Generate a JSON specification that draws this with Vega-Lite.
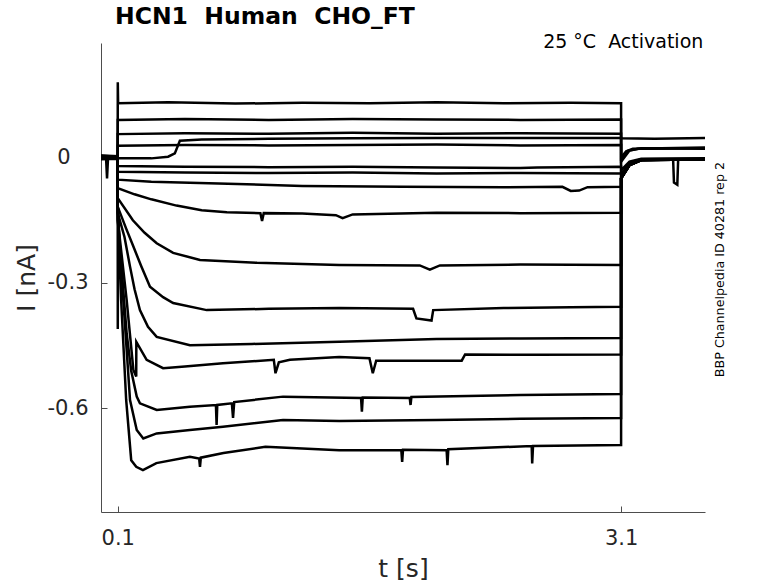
{
  "$schema": "https://vega.github.io/schema/vega-lite/v6.json",
  "width": 604,
  "height": 469,
  "autosize": {"type": "none"},
  "padding": {"left": 101, "top": 43, "right": 73, "bottom": 71},
  "background": "white",
  "config": {
    "view": {"stroke": null},
    "font": "DejaVu Sans",
    "axis": {
      "grid": false,
      "domainColor": "#4d4d4d",
      "domainWidth": 1,
      "tickColor": "#4d4d4d",
      "tickWidth": 1,
      "tickSize": -6,
      "labelFont": "DejaVu Sans",
      "labelFontSize": 21,
      "labelColor": "#262626",
      "titleFont": "DejaVu Sans",
      "titleFontSize": 25,
      "titleFontWeight": "normal",
      "titleColor": "#262626"
    }
  },
  "title": {
    "text": "HCN1\u00a0 Human\u00a0 CHO_FT",
    "anchor": "start",
    "frame": "group",
    "dx": 14,
    "offset": 5,
    "font": "DejaVu Sans",
    "fontSize": 23.5,
    "fontWeight": "bold",
    "color": "#000000"
  },
  "layer": [
    {
      "data": {
        "values": [
          {"s":1,"t":0,"i":0.004},{"s":1,"t":0.05,"i":0.003},{"s":1,"t":0.0995,"i":0.002},{"s":1,"t":0.1,"i":0.18},{"s":1,"t":0.102,"i":0.13},{"s":1,"t":0.4,"i":0.132},{"s":1,"t":0.8,"i":0.129},{"s":1,"t":1.2,"i":0.131},{"s":1,"t":1.6,"i":0.13},{"s":1,"t":2.0,"i":0.132},{"s":1,"t":2.4,"i":0.13},{"s":1,"t":2.8,"i":0.131},{"s":1,"t":3.0999,"i":0.13},{"s":1,"t":3.1,"i":0.046},{"s":1,"t":3.3,"i":0.045},{"s":1,"t":3.6,"i":0.047},

          {"s":2,"t":0,"i":0.0},{"s":2,"t":0.05,"i":0.002},{"s":2,"t":0.0995,"i":0.0},{"s":2,"t":0.1,"i":0.09},{"s":2,"t":0.5,"i":0.092},{"s":2,"t":1.0,"i":0.09},{"s":2,"t":1.5,"i":0.092},{"s":2,"t":2.0,"i":0.091},{"s":2,"t":2.5,"i":0.09},{"s":2,"t":3.0999,"i":0.091},{"s":2,"t":3.1,"i":0.0},{"s":2,"t":3.13,"i":0.015},{"s":2,"t":3.17,"i":0.021},{"s":2,"t":3.6,"i":0.024},

          {"s":3,"t":0,"i":-0.003},{"s":3,"t":0.0995,"i":-0.002},{"s":3,"t":0.1,"i":0.056},{"s":3,"t":0.5,"i":0.058},{"s":3,"t":1.0,"i":0.057},{"s":3,"t":1.5,"i":0.059},{"s":3,"t":2.0,"i":0.057},{"s":3,"t":2.5,"i":0.058},{"s":3,"t":3.0999,"i":0.057},{"s":3,"t":3.1,"i":-0.005},{"s":3,"t":3.14,"i":0.016},{"s":3,"t":3.2,"i":0.021},{"s":3,"t":3.6,"i":0.022},

          {"s":4,"t":0,"i":0.002},{"s":4,"t":0.0995,"i":0.0},{"s":4,"t":0.1,"i":-0.002},{"s":4,"t":0.3,"i":-0.002},{"s":4,"t":0.4,"i":0.002},{"s":4,"t":0.44,"i":0.01},{"s":4,"t":0.47,"i":0.04},{"s":4,"t":0.6,"i":0.043},{"s":4,"t":1.0,"i":0.045},{"s":4,"t":1.5,"i":0.046},{"s":4,"t":2.0,"i":0.047},{"s":4,"t":2.5,"i":0.047},{"s":4,"t":3.0999,"i":0.047},{"s":4,"t":3.1,"i":-0.01},{"s":4,"t":3.15,"i":0.017},{"s":4,"t":3.22,"i":0.022},{"s":4,"t":3.6,"i":0.021},

          {"s":5,"t":0,"i":0.001},{"s":5,"t":0.03,"i":0.0},{"s":5,"t":0.036,"i":-0.05},{"s":5,"t":0.042,"i":0.0},{"s":5,"t":0.0995,"i":-0.001},{"s":5,"t":0.1,"i":0.028},{"s":5,"t":0.5,"i":0.03},{"s":5,"t":1.0,"i":0.029},{"s":5,"t":1.5,"i":0.03},{"s":5,"t":2.0,"i":0.031},{"s":5,"t":2.5,"i":0.029},{"s":5,"t":3.0999,"i":0.03},{"s":5,"t":3.1,"i":-0.03},{"s":5,"t":3.15,"i":-0.01},{"s":5,"t":3.22,"i":-0.003},{"s":5,"t":3.6,"i":-0.002},

          {"s":6,"t":0,"i":-0.004},{"s":6,"t":0.0995,"i":-0.003},{"s":6,"t":0.1,"i":-0.02},{"s":6,"t":0.5,"i":-0.022},{"s":6,"t":1.0,"i":-0.023},{"s":6,"t":1.5,"i":-0.022},{"s":6,"t":2.0,"i":-0.024},{"s":6,"t":2.5,"i":-0.025},{"s":6,"t":2.6,"i":-0.024},{"s":6,"t":3.0999,"i":-0.022},{"s":6,"t":3.1,"i":-0.04},{"s":6,"t":3.15,"i":-0.012},{"s":6,"t":3.22,"i":-0.004},{"s":6,"t":3.6,"i":-0.003},

          {"s":7,"t":0,"i":0.003},{"s":7,"t":0.0995,"i":0.002},{"s":7,"t":0.1,"i":-0.034},{"s":7,"t":0.5,"i":-0.036},{"s":7,"t":1.0,"i":-0.037},{"s":7,"t":1.5,"i":-0.036},{"s":7,"t":2.0,"i":-0.038},{"s":7,"t":2.5,"i":-0.037},{"s":7,"t":3.0999,"i":-0.038},{"s":7,"t":3.1,"i":-0.045},{"s":7,"t":3.15,"i":-0.015},{"s":7,"t":3.22,"i":-0.005},{"s":7,"t":3.6,"i":-0.004},

          {"s":8,"t":0,"i":-0.002},{"s":8,"t":0.0995,"i":-0.001},{"s":8,"t":0.1,"i":-0.053},{"s":8,"t":0.3,"i":-0.058},{"s":8,"t":0.7,"i":-0.062},{"s":8,"t":1.2,"i":-0.068},{"s":8,"t":1.8,"i":-0.07},{"s":8,"t":2.4,"i":-0.071},{"s":8,"t":2.75,"i":-0.07},{"s":8,"t":2.8,"i":-0.08},{"s":8,"t":2.85,"i":-0.079},{"s":8,"t":2.9,"i":-0.071},{"s":8,"t":3.0999,"i":-0.07},{"s":8,"t":3.1,"i":-0.05},{"s":8,"t":3.15,"i":-0.015},{"s":8,"t":3.22,"i":-0.006},{"s":8,"t":3.6,"i":-0.004},

          {"s":9,"t":0,"i":0.0},{"s":9,"t":0.0995,"i":0.001},{"s":9,"t":0.1,"i":-0.073},{"s":9,"t":0.2,"i":-0.088},{"s":9,"t":0.3,"i":-0.1},{"s":9,"t":0.45,"i":-0.115},{"s":9,"t":0.6,"i":-0.126},{"s":9,"t":0.75,"i":-0.131},{"s":9,"t":0.95,"i":-0.133},{"s":9,"t":0.96,"i":-0.152},{"s":9,"t":0.97,"i":-0.133},{"s":9,"t":1.2,"i":-0.134},{"s":9,"t":1.4,"i":-0.138},{"s":9,"t":1.44,"i":-0.145},{"s":9,"t":1.5,"i":-0.136},{"s":9,"t":2.0,"i":-0.132},{"s":9,"t":2.5,"i":-0.133},{"s":9,"t":3.0999,"i":-0.132},{"s":9,"t":3.1,"i":-0.05},{"s":9,"t":3.15,"i":-0.016},{"s":9,"t":3.22,"i":-0.006},{"s":9,"t":3.6,"i":-0.005},

          {"s":10,"t":0,"i":0.002},{"s":10,"t":0.0995,"i":0.0},{"s":10,"t":0.1,"i":-0.097},{"s":10,"t":0.19,"i":-0.15},{"s":10,"t":0.26,"i":-0.18},{"s":10,"t":0.332,"i":-0.205},{"s":10,"t":0.43,"i":-0.228},{"s":10,"t":0.59,"i":-0.245},{"s":10,"t":0.93,"i":-0.252},{"s":10,"t":1.42,"i":-0.257},{"s":10,"t":1.9,"i":-0.258},{"s":10,"t":1.96,"i":-0.268},{"s":10,"t":2.02,"i":-0.258},{"s":10,"t":2.5,"i":-0.256},{"s":10,"t":3.0999,"i":-0.257},{"s":10,"t":3.1,"i":-0.05},{"s":10,"t":3.15,"i":-0.018},{"s":10,"t":3.22,"i":-0.006},{"s":10,"t":3.6,"i":-0.004},

          {"s":11,"t":0,"i":-0.002},{"s":11,"t":0.0995,"i":0.0},{"s":11,"t":0.1,"i":-0.118},{"s":11,"t":0.15,"i":-0.17},{"s":11,"t":0.193,"i":-0.213},{"s":11,"t":0.24,"i":-0.26},{"s":11,"t":0.292,"i":-0.309},{"s":11,"t":0.37,"i":-0.334},{"s":11,"t":0.43,"i":-0.348},{"s":11,"t":0.63,"i":-0.365},{"s":11,"t":1.0,"i":-0.362},{"s":11,"t":1.42,"i":-0.36},{"s":11,"t":1.86,"i":-0.362},{"s":11,"t":1.88,"i":-0.385},{"s":11,"t":1.97,"i":-0.39},{"s":11,"t":1.98,"i":-0.365},{"s":11,"t":2.4,"i":-0.36},{"s":11,"t":2.8,"i":-0.358},{"s":11,"t":3.0999,"i":-0.357},{"s":11,"t":3.1,"i":-0.05},{"s":11,"t":3.15,"i":-0.018},{"s":11,"t":3.22,"i":-0.006},{"s":11,"t":3.6,"i":-0.005},

          {"s":12,"t":0,"i":0.001},{"s":12,"t":0.0995,"i":0.0},{"s":12,"t":0.1,"i":-0.133},{"s":12,"t":0.14,"i":-0.19},{"s":12,"t":0.173,"i":-0.261},{"s":12,"t":0.2,"i":-0.315},{"s":12,"t":0.232,"i":-0.365},{"s":12,"t":0.28,"i":-0.405},{"s":12,"t":0.332,"i":-0.429},{"s":12,"t":0.53,"i":-0.449},{"s":12,"t":0.9,"i":-0.446},{"s":12,"t":1.42,"i":-0.441},{"s":12,"t":2.0,"i":-0.434},{"s":12,"t":2.5,"i":-0.433},{"s":12,"t":3.0999,"i":-0.432},{"s":12,"t":3.1,"i":-0.05},{"s":12,"t":3.15,"i":-0.018},{"s":12,"t":3.22,"i":-0.006},{"s":12,"t":3.6,"i":-0.005},

          {"s":13,"t":0,"i":-0.001},{"s":13,"t":0.0995,"i":0.0},{"s":13,"t":0.1,"i":-0.15},{"s":13,"t":0.153,"i":-0.341},{"s":13,"t":0.193,"i":-0.508},{"s":13,"t":0.21,"i":-0.524},{"s":13,"t":0.2105,"i":-0.441},{"s":13,"t":0.272,"i":-0.484},{"s":13,"t":0.37,"i":-0.504},{"s":13,"t":0.5,"i":-0.5},{"s":13,"t":0.727,"i":-0.492},{"s":13,"t":1.03,"i":-0.484},{"s":13,"t":1.04,"i":-0.516},{"s":13,"t":1.06,"i":-0.49},{"s":13,"t":1.126,"i":-0.484},{"s":13,"t":1.42,"i":-0.477},{"s":13,"t":1.6,"i":-0.48},{"s":13,"t":1.62,"i":-0.516},{"s":13,"t":1.64,"i":-0.486},{"s":13,"t":2.15,"i":-0.486},{"s":13,"t":2.17,"i":-0.471},{"s":13,"t":2.6,"i":-0.472},{"s":13,"t":3.0999,"i":-0.471},{"s":13,"t":3.1,"i":-0.05},{"s":13,"t":3.15,"i":-0.018},{"s":13,"t":3.22,"i":-0.006},{"s":13,"t":3.6,"i":-0.005},

          {"s":14,"t":0,"i":0.001},{"s":14,"t":0.0995,"i":0.0},{"s":14,"t":0.1,"i":-0.15},{"s":14,"t":0.153,"i":-0.421},{"s":14,"t":0.18,"i":-0.51},{"s":14,"t":0.213,"i":-0.572},{"s":14,"t":0.232,"i":-0.588},{"s":14,"t":0.332,"i":-0.604},{"s":14,"t":0.53,"i":-0.596},{"s":14,"t":0.685,"i":-0.592},{"s":14,"t":0.689,"i":-0.64},{"s":14,"t":0.693,"i":-0.592},{"s":14,"t":0.78,"i":-0.588},{"s":14,"t":0.787,"i":-0.623},{"s":14,"t":0.794,"i":-0.585},{"s":14,"t":1.085,"i":-0.572},{"s":14,"t":1.55,"i":-0.575},{"s":14,"t":1.555,"i":-0.608},{"s":14,"t":1.56,"i":-0.574},{"s":14,"t":1.84,"i":-0.575},{"s":14,"t":1.845,"i":-0.592},{"s":14,"t":1.85,"i":-0.573},{"s":14,"t":2.5,"i":-0.568},{"s":14,"t":3.0999,"i":-0.566},{"s":14,"t":3.1,"i":-0.05},{"s":14,"t":3.15,"i":-0.018},{"s":14,"t":3.22,"i":-0.006},{"s":14,"t":3.6,"i":-0.005},

          {"s":15,"t":0,"i":0.0},{"s":15,"t":0.0995,"i":0.0},{"s":15,"t":0.1,"i":-0.133},{"s":15,"t":0.133,"i":-0.341},{"s":15,"t":0.173,"i":-0.58},{"s":15,"t":0.213,"i":-0.652},{"s":15,"t":0.252,"i":-0.672},{"s":15,"t":0.332,"i":-0.66},{"s":15,"t":0.53,"i":-0.652},{"s":15,"t":0.727,"i":-0.644},{"s":15,"t":1.085,"i":-0.628},{"s":15,"t":1.42,"i":-0.63},{"s":15,"t":2.0,"i":-0.628},{"s":15,"t":2.5,"i":-0.625},{"s":15,"t":3.0999,"i":-0.623},{"s":15,"t":3.1,"i":-0.05},{"s":15,"t":3.15,"i":-0.018},{"s":15,"t":3.22,"i":-0.006},{"s":15,"t":3.41,"i":-0.005},{"s":15,"t":3.415,"i":-0.06},{"s":15,"t":3.435,"i":-0.065},{"s":15,"t":3.44,"i":-0.005},{"s":15,"t":3.6,"i":-0.005},

          {"s":16,"t":0,"i":0.005},{"s":16,"t":0.0995,"i":0.003},{"s":16,"t":0.1,"i":-0.41},{"s":16,"t":0.102,"i":-0.12},{"s":16,"t":0.12,"i":-0.341},{"s":16,"t":0.15,"i":-0.58},{"s":16,"t":0.18,"i":-0.724},{"s":16,"t":0.21,"i":-0.74},{"s":16,"t":0.25,"i":-0.748},{"s":16,"t":0.33,"i":-0.731},{"s":16,"t":0.53,"i":-0.716},{"s":16,"t":0.585,"i":-0.72},{"s":16,"t":0.59,"i":-0.74},{"s":16,"t":0.595,"i":-0.718},{"s":16,"t":0.73,"i":-0.707},{"s":16,"t":0.98,"i":-0.692},{"s":16,"t":1.42,"i":-0.7},{"s":16,"t":1.79,"i":-0.7},{"s":16,"t":1.795,"i":-0.728},{"s":16,"t":1.8,"i":-0.699},{"s":16,"t":2.06,"i":-0.7},{"s":16,"t":2.065,"i":-0.736},{"s":16,"t":2.07,"i":-0.698},{"s":16,"t":2.567,"i":-0.69},{"s":16,"t":2.57,"i":-0.732},{"s":16,"t":2.575,"i":-0.69},{"s":16,"t":3.0999,"i":-0.688},{"s":16,"t":3.1,"i":-0.05},{"s":16,"t":3.15,"i":-0.018},{"s":16,"t":3.22,"i":-0.006},{"s":16,"t":3.6,"i":-0.005}
        ]
      },
      "mark": {"type": "line", "color": "#000000", "strokeWidth": 2.5, "clip": true},
      "encoding": {
        "x": {
          "field": "t", "type": "quantitative",
          "scale": {"domain": [0, 3.6], "nice": false, "zero": false},
          "axis": {"values": [0.1, 3.1], "title": "t [s]", "labelExpr": "toString(datum.value)", "labelPadding": 21, "titlePadding": 8}
        },
        "y": {
          "field": "i", "type": "quantitative",
          "scale": {"domain": [-0.848, 0.274], "nice": false, "zero": false},
          "axis": {
            "values": [0, -0.3, -0.6],
            "title": "I [nA]",
            "labelExpr": "toString(datum.value)",
            "labelPadding": {"condition": {"test": "datum.value == 0", "value": 37}, "value": 19},
            "titlePadding": 8
          }
        },
        "detail": {"field": "s", "type": "nominal"}
      }
    },
    {
      "data": {"values": [{"label": "25 \u00b0C\u00a0 Activation", "t": 3.59, "i": 0.262}]},
      "mark": {"type": "text", "align": "right", "baseline": "alphabetic", "fontSize": 19, "font": "DejaVu Sans", "color": "#000000"},
      "encoding": {
        "x": {"field": "t", "type": "quantitative"},
        "y": {"field": "i", "type": "quantitative"},
        "text": {"field": "label"}
      }
    },
    {
      "data": {"values": [{"label": "BBP Channelpedia ID 40281 rep 2", "t": 3.689, "i": -0.268}]},
      "mark": {"type": "text", "align": "center", "baseline": "middle", "angle": 270, "fontSize": 12.7, "font": "DejaVu Sans", "color": "#000000"},
      "encoding": {
        "x": {"field": "t", "type": "quantitative"},
        "y": {"field": "i", "type": "quantitative"},
        "text": {"field": "label"}
      }
    }
  ]
}
